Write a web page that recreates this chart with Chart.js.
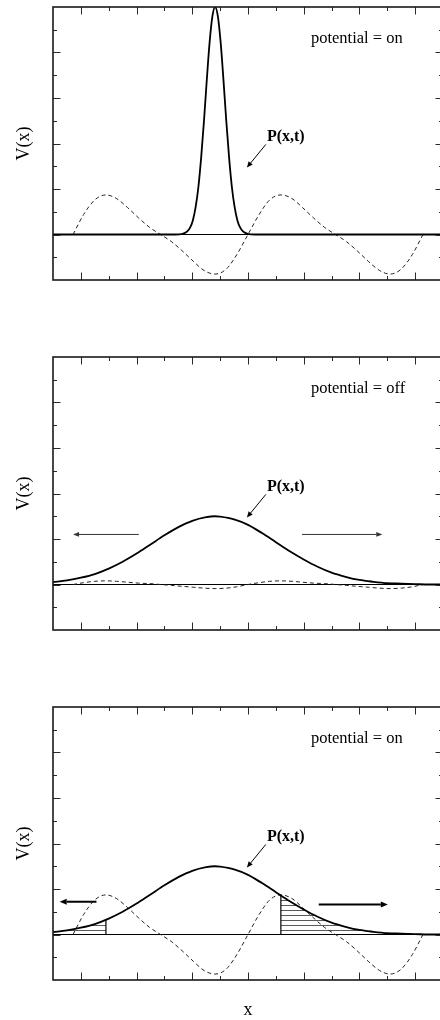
<!DOCTYPE html>
<html>
<head>
<meta charset="utf-8">
<script src="https://cdn.jsdelivr.net/npm/chart.js@4.4.1/dist/chart.umd.min.js"></script>
<style>
  html, body { margin: 0; padding: 0; background: #fff; overflow: hidden; width: 440px; height: 1020px; }
  canvas { display: block; }
</style>
</head>
<body>
<canvas id="panelOn" width="450" height="350"></canvas>
<canvas id="panelOff" width="450" height="350"></canvas>
<canvas id="panelOnAgain" width="450" height="320"></canvas>
<script>
// ---- ratchet potential V(x), two periods ----
const xPotential = [-3.14,-2.95,-2.75,-2.55,-2.36,-2.16,-1.96,-1.77,-1.57,-1.37,-1.18,-0.98,-0.79,-0.59,-0.39,-0.20,
                    0,0.20,0.39,0.59,0.79,0.98,1.18,1.37,1.57,1.77,1.96,2.16,2.36,2.55,2.75,2.95,3.14];
const potentialOn = [0,0.44,0.76,0.87,0.79,0.59,0.36,0.16,0,-0.16,-0.36,-0.59,-0.79,-0.87,-0.76,-0.44,
                     0,0.44,0.76,0.87,0.79,0.59,0.36,0.16,0,-0.16,-0.36,-0.59,-0.79,-0.87,-0.76,-0.44,0];
const potentialOff = [0,0.04,0.07,0.08,0.07,0.05,0.03,0.02,0,-0.02,-0.04,-0.06,-0.08,-0.09,-0.08,-0.05,
                      0,0.04,0.07,0.08,0.07,0.05,0.03,0.02,0,-0.02,-0.04,-0.06,-0.08,-0.09,-0.08,-0.05,0];

// ---- probability P(x,t): localised packet ----
const xNarrow = [-3.5,-1.3,-1.19,-1.14,-1.09,-1.04,-0.99,-0.94,-0.89,-0.84,-0.79,-0.74,-0.69,-0.64,-0.59,
                 -0.54,-0.49,-0.44,-0.39,-0.34,-0.29,-0.24,-0.19,-0.14,-0.09,-0.04,0.01,0.12,3.5];
const packetNarrow = [0,0,0.01,0.03,0.07,0.15,0.31,0.60,1.05,1.70,2.50,3.39,4.21,4.79,5.00,
                      4.79,4.21,3.39,2.50,1.70,1.05,0.60,0.31,0.15,0.07,0.03,0.01,0,0];

// ---- probability P(x,t): spread packet ----
const xSpread = [-3.5,-3.25,-3,-2.75,-2.5,-2.25,-2,-1.75,-1.5,-1.25,-1,-0.75,-0.6,-0.5,-0.25,0,
                 0.25,0.5,0.75,1,1.25,1.5,1.75,2,2.25,2.5,2.75,3,3.25,3.5];
const packetSpread = [0.05,0.09,0.15,0.23,0.35,0.50,0.68,0.88,1.08,1.26,1.40,1.48,1.50,1.49,1.43,1.31,
                      1.13,0.93,0.73,0.55,0.39,0.26,0.17,0.10,0.06,0.03,0.02,0.01,0,0];

// shaded tails are cut at the potential maxima
const tailCuts = [-2.55, 0.59];
const tailCutValues = [0.33, 0.86];

// axis tick values
const xMajorTicks = [-3,-2,-1,0,1,2,3];
const xMinorTicks = [-3.5,-2.5,-1.5,-0.5,0.5,1.5,2.5,3.5];
const yMajorTicks = [-1,0,1,2,3,4,5];
const yMinorTicks = [-0.5,0.5,1.5,2.5,3.5,4.5];

const pts = (xs, ys) => xs.map((x, i) => ({x, y: ys[i]}));

// horizontal hatch pattern for the shaded tails
function makeHatch() {
  const c = document.createElement('canvas');
  c.width = 4; c.height = 5;
  const g = c.getContext('2d');
  g.fillStyle = '#5a5a5a';
  g.fillRect(0, 0, 4, 1);
  return g.createPattern(c, 'repeat');
}

const SERIF = '"Liberation Serif", "Times New Roman", serif';

function drawArrow(ctx, x0, y0, x1, y1, width, color, headLen, headHalf) {
  const ang = Math.atan2(y1 - y0, x1 - x0);
  const bx = x1 - headLen * Math.cos(ang), by = y1 - headLen * Math.sin(ang);
  ctx.save();
  ctx.strokeStyle = color; ctx.fillStyle = color; ctx.lineWidth = width;
  ctx.beginPath(); ctx.moveTo(x0, y0); ctx.lineTo(bx, by); ctx.stroke();
  ctx.beginPath();
  ctx.moveTo(x1, y1);
  ctx.lineTo(bx + headHalf * Math.sin(ang), by - headHalf * Math.cos(ang));
  ctx.lineTo(bx - headHalf * Math.sin(ang), by + headHalf * Math.cos(ang));
  ctx.closePath(); ctx.fill();
  ctx.restore();
}

const decor = {
  id: 'decor',
  beforeDatasetsDraw(chart, args, o) {
    const {ctx, chartArea: a, scales: {x, y}} = chart;
    const z = y.getPixelForValue(0);
    if (o.hatch) o.hatch.setTransform(new DOMMatrix([1, 0, 0, 1, 0, Math.round(z)]));
    ctx.save();
    ctx.strokeStyle = '#000'; ctx.lineWidth = 1;
    ctx.beginPath(); ctx.moveTo(a.left, z); ctx.lineTo(a.right, z); ctx.stroke();
    ctx.restore();
  },
  afterDatasetsDraw(chart, args, o) {
    const {ctx, chartArea: a, scales: {x, y}} = chart;
    ctx.save();
    // inward tick marks on all four sides
    ctx.strokeStyle = '#2a2a2a'; ctx.lineWidth = 1;
    ctx.beginPath();
    const xt = (v, len) => {
      const p = Math.round(x.getPixelForValue(v)) + 0.5;
      if (p <= a.left + 1 || p >= a.right - 1) return;
      ctx.moveTo(p, a.top); ctx.lineTo(p, a.top + len);
      ctx.moveTo(p, a.bottom); ctx.lineTo(p, a.bottom - len);
    };
    const yt = (v, len) => {
      const p = Math.round(y.getPixelForValue(v)) + 0.5;
      if (p <= a.top + 1 || p >= a.bottom - 1) return;
      ctx.moveTo(a.left, p); ctx.lineTo(a.left + len, p);
      ctx.moveTo(a.right, p); ctx.lineTo(a.right - len, p);
    };
    xMajorTicks.forEach(v => xt(v, 7.5));
    xMinorTicks.forEach(v => xt(v, 4));
    yMajorTicks.forEach(v => yt(v, 7.5));
    yMinorTicks.forEach(v => yt(v, 4));
    ctx.stroke();
    // frame
    ctx.strokeStyle = '#1a1a1a'; ctx.lineWidth = 1.6;
    ctx.strokeRect(a.left, a.top, a.right - a.left, a.bottom - a.top);

    // texts
    ctx.fillStyle = '#000';
    ctx.textBaseline = 'alphabetic';
    ctx.textAlign = 'left';
    ctx.font = '16.5px ' + SERIF;
    ctx.fillText(o.note, x.getPixelForValue(1.13), y.getPixelForValue(4.2));
    ctx.font = 'bold 16px ' + SERIF;
    ctx.fillText('P(x,t)', x.getPixelForValue(0.34), y.getPixelForValue(2.05));

    // axis titles
    ctx.save();
    ctx.font = '18px ' + SERIF;
    ctx.textAlign = 'center';
    ctx.translate(28.5, (a.top + a.bottom) / 2);
    ctx.rotate(-Math.PI / 2);
    ctx.fillText('V(x)', 0, 0);
    ctx.restore();
    if (o.xTitle) {
      ctx.font = '18px ' + SERIF;
      ctx.textAlign = 'center';
      ctx.fillText('x', x.getPixelForValue(0), a.bottom + 35);
    }

    // arrows
    (o.arrows || []).forEach(ar => {
      drawArrow(ctx,
        x.getPixelForValue(ar.from[0]), y.getPixelForValue(ar.from[1]),
        x.getPixelForValue(ar.to[0]), y.getPixelForValue(ar.to[1]),
        ar.width, ar.color, ar.head[0], ar.head[1]);
    });
    ctx.restore();
  }
};

const labelArrow = {from: [0.32, 1.98], to: [-0.02, 1.47], width: 1, color: '#000', head: [6, 2.6]};

function packetLine(data) {
  return {data, borderColor: '#000', borderWidth: 1.8, pointRadius: 0,
          cubicInterpolationMode: 'monotone', fill: false};
}
function potentialLine(data) {
  return {data, borderColor: '#222', borderWidth: 1, borderDash: [4, 3], pointRadius: 0,
          cubicInterpolationMode: 'monotone', fill: false};
}

function makePanel(id, datasets, deco, bottomPad) {
  return new Chart(document.getElementById(id), {
    type: 'line',
    data: {datasets},
    plugins: [decor],
    options: {
      responsive: false,
      animation: false,
      events: [],
      layout: {padding: {left: 53, right: 7, top: 7, bottom: bottomPad}},
      scales: {
        x: {type: 'linear', min: -3.5, max: 3.5, display: false},
        y: {type: 'linear', min: -1, max: 5, display: false}
      },
      plugins: {legend: {display: false}, tooltip: {enabled: false}, decor: deco}
    }
  });
}

// panel 1: potential switched on, packet localised in a well
makePanel('panelOn', [
  packetLine(pts(xNarrow, packetNarrow)),
  potentialLine(pts(xPotential, potentialOn))
], {note: 'potential = on', arrows: [labelArrow]}, 70);

// panel 2: potential switched off, packet spreads both ways
makePanel('panelOff', [
  packetLine(pts(xSpread, packetSpread)),
  potentialLine(pts(xPotential, potentialOff))
], {note: 'potential = off', arrows: [
  labelArrow,
  {from: [-1.96, 1.10], to: [-3.14, 1.10], width: 1, color: '#333', head: [6, 2.4]},
  {from: [0.97, 1.10], to: [2.41, 1.10], width: 1, color: '#333', head: [6, 2.4]}
]}, 70);

// panel 3: potential back on, tails beyond the maxima are shaded
const hatch = makeHatch();
const leftTail = pts(xSpread.filter(v => v < tailCuts[0]), packetSpread.filter((v, i) => xSpread[i] < tailCuts[0]))
  .concat([{x: tailCuts[0], y: tailCutValues[0]}]);
const rightTail = [{x: tailCuts[1], y: tailCutValues[1]}]
  .concat(pts(xSpread.filter(v => v > tailCuts[1]), packetSpread.filter((v, i) => xSpread[i] > tailCuts[1])));

makePanel('panelOnAgain', [
  packetLine(pts(xSpread, packetSpread)),
  {data: [{x: tailCuts[0], y: 0}, {x: tailCuts[0], y: tailCutValues[0]}], borderColor: '#000', borderWidth: 1.2, pointRadius: 0},
  {data: [{x: tailCuts[1], y: 0}, {x: tailCuts[1], y: tailCutValues[1]}], borderColor: '#000', borderWidth: 1.2, pointRadius: 0},
  potentialLine(pts(xPotential, potentialOn)),
  {data: leftTail, borderWidth: 0, pointRadius: 0, cubicInterpolationMode: 'monotone', fill: 'origin', backgroundColor: hatch},
  {data: rightTail, borderWidth: 0, pointRadius: 0, cubicInterpolationMode: 'monotone', fill: 'origin', backgroundColor: hatch}
], {note: 'potential = on', xTitle: true, hatch, arrows: [
  labelArrow,
  {from: [-2.72, 0.72], to: [-3.38, 0.72], width: 2, color: '#000', head: [7, 3]},
  {from: [1.27, 0.66], to: [2.51, 0.66], width: 2, color: '#000', head: [7, 3]}
]}, 40);
</script>
</body>
</html>
